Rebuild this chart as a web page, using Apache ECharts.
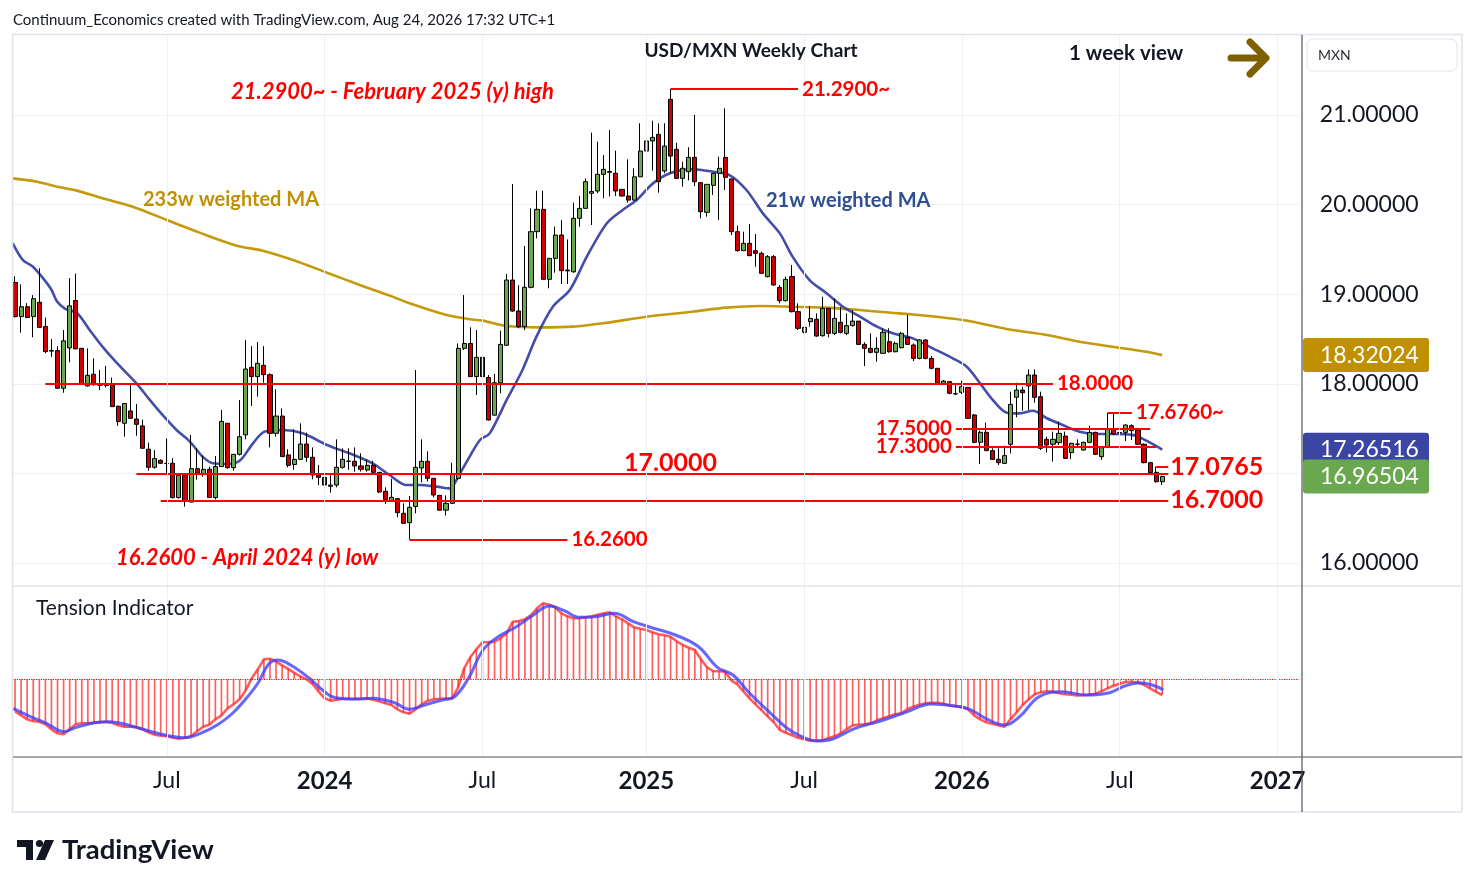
<!DOCTYPE html>
<html>
<head>
<meta charset="utf-8">
<title>USD/MXN Weekly Chart</title>
<script src="https://cdn.jsdelivr.net/npm/echarts@6.0.0/dist/echarts.min.js"></script>
<style>
  html, body { margin: 0; padding: 0; background: #fff; }
  #chart { width: 1475px; height: 887px; }
</style>
</head>
<body>
<div id="chart"></div>
<script>
// weekly bars starting with the week of 9 Jan 2023 (empty weeks pad the axis out past 2027)
var firstWeek = Date.UTC(2023, 0, 9);
var weekCount = 212;
var tickIdx  = [25, 51, 77, 104, 130, 156, 182, 208];
var tickText = ['Jul', '2024', 'Jul', '2025', 'Jul', '2026', 'Jul', '2027'];
var priceTicks = [16, 18, 19, 20, 21];

// OHLC
var opens = [19.13,18.75,18.86,18.75,18.91,18.64,18.37,18.37,17.95,18.40,18.93,18.396,17.976,18.106,17.99,17.98,17.99,17.75,17.56,17.697,
  17.607,17.53,17.27,17.068,17.146,17.11,17.113,16.73,16.979,16.68,17.053,16.994,17.046,16.73,17.076,17.56,17.064,17.213,17.43,18.184,
  18.08,18.206,18.102,17.447,17.64,17.206,17.10,17.157,17.328,17.18,16.982,16.956,16.856,16.87,17.068,17.135,17.135,17.083,17.038,17.09,
  17.012,16.80,16.688,16.718,16.555,16.45,16.63,17.06,17.135,16.945,16.755,16.59,16.666,16.945,18.396,18.45,18.08,18.295,18.07,17.65,
  18.01,18.43,19.158,18.812,18.638,19.077,19.698,19.947,19.166,19.40,19.66,19.27,19.25,19.847,19.958,20.126,20.152,20.338,20.36,20.35,
  20.17,20.096,20.05,20.31,20.598,20.71,20.784,20.375,21.175,20.617,20.293,20.367,20.527,20.245,19.914,20.215,20.349,20.527,20.286,19.698,
  19.486,19.568,19.486,19.456,19.196,19.419,19.076,18.928,19.196,18.805,18.575,18.693,18.72,18.537,18.842,18.563,18.686,18.563,18.649,18.70,
  18.44,18.396,18.351,18.34,18.47,18.358,18.403,18.518,18.433,18.284,18.489,18.284,18.173,18.005,18.024,17.887,17.905,17.96,17.652,17.347,
  17.458,17.254,17.157,17.112,17.325,17.85,17.93,17.976,18.098,17.856,17.38,17.325,17.343,17.417,17.232,17.325,17.261,17.347,17.458,17.187,
  17.298,17.496,17.455,17.458,17.533,17.485,17.325,17.12,17.012,16.908];
var closes = [18.75,18.86,18.74,18.95,18.63,18.36,18.365,17.95,18.48,18.87,18.39,17.998,18.095,17.99,17.985,17.982,17.745,17.578,17.78,17.615,
  17.548,17.28,17.068,17.165,17.113,17.112,16.73,16.979,16.69,17.053,17.00,17.046,16.73,17.076,17.58,17.064,17.213,17.41,18.165,18.08,
  18.228,18.102,17.447,17.64,17.187,17.09,17.157,17.328,17.18,16.982,16.956,16.87,16.87,17.068,17.157,17.137,17.083,17.046,17.09,17.012,
  16.792,16.71,16.733,16.562,16.443,16.621,17.068,17.135,16.945,16.759,16.59,16.666,16.993,18.396,18.45,18.08,18.295,18.08,17.596,18.012,
  18.44,19.158,18.812,18.638,19.077,19.698,19.947,19.166,19.40,19.66,19.263,19.26,19.847,19.958,20.256,20.145,20.338,20.394,20.37,20.152,
  20.096,20.05,20.31,20.598,20.71,20.75,20.256,20.654,20.542,20.293,20.405,20.527,20.256,19.921,20.226,20.349,20.405,20.304,19.698,19.486,
  19.568,19.43,19.456,19.233,19.419,19.103,18.928,19.166,18.805,18.619,18.63,18.73,18.533,18.842,18.563,18.73,18.574,18.649,18.70,18.44,
  18.396,18.351,18.396,18.574,18.358,18.451,18.563,18.44,18.284,18.489,18.284,18.173,18.005,18.031,17.894,17.889,17.968,17.615,17.347,17.458,
  17.254,17.157,17.12,17.198,17.77,17.93,17.90,18.098,17.849,17.28,17.317,17.38,17.447,17.168,17.336,17.327,17.347,17.458,17.213,17.287,
  17.496,17.44,17.457,17.54,17.477,17.325,17.12,17.008,16.908,16.965];
var lows = [18.74,18.57,18.735,18.52,18.63,18.34,18.30,17.95,17.90,18.24,18.385,17.99,17.97,17.98,17.93,17.96,17.745,17.53,17.41,17.615,
  17.42,17.28,17.03,17.053,17.105,17.00,16.718,16.72,16.63,16.68,16.93,16.963,16.73,16.71,17.076,17.05,17.03,17.20,17.38,17.752,
  17.856,18.012,17.29,17.41,17.187,17.068,17.038,17.15,17.13,16.934,16.87,16.87,16.785,16.845,17.053,17.04,17.02,17.02,17.02,17.00,
  16.78,16.66,16.68,16.51,16.443,16.26,16.555,16.90,16.908,16.733,16.584,16.53,16.658,16.926,18.377,18.08,17.875,18.06,17.59,17.65,
  17.894,18.425,18.805,18.62,18.60,19.066,19.623,19.166,19.066,19.24,19.114,19.114,19.24,19.753,19.958,19.772,20.126,20.07,20.09,20.096,
  20.09,20.02,20.044,20.31,20.237,20.38,20.133,20.35,20.35,20.286,20.20,20.27,20.207,19.847,19.865,20.107,19.828,20.163,19.66,19.475,
  19.486,19.43,19.307,19.225,19.188,19.095,18.898,18.917,18.797,18.60,18.563,18.638,18.526,18.526,18.518,18.544,18.563,18.544,18.638,18.433,
  18.198,18.34,18.247,18.333,18.347,18.351,18.396,18.433,18.254,18.273,18.273,18.161,18.005,17.998,17.883,17.875,17.887,17.607,17.336,17.105,
  17.254,17.15,17.094,17.105,17.224,17.626,17.70,17.708,17.79,17.261,17.231,17.131,17.317,17.16,17.16,17.30,17.254,17.336,17.205,17.15,
  17.291,17.429,17.43,17.362,17.373,17.317,17.112,16.99,16.896,16.87];
var highs = [19.20,19.11,18.90,18.99,19.29,18.74,18.50,18.42,18.60,19.18,19.23,18.40,18.396,18.285,18.155,18.20,18.07,17.755,17.78,17.987,
  17.775,17.60,17.343,17.26,17.157,17.39,17.17,16.98,16.98,17.43,17.28,17.20,17.076,17.194,17.708,17.56,17.213,17.82,18.49,18.42,
  18.466,18.42,18.117,17.938,17.726,17.27,17.492,17.559,17.455,17.29,17.094,17.105,16.98,17.38,17.28,17.28,17.29,17.224,17.157,17.14,
  17.012,16.845,16.94,16.722,16.666,16.748,18.154,17.38,17.246,16.945,16.755,16.755,17.12,18.45,18.99,18.63,18.60,18.50,18.098,18.11,
  18.593,19.225,20.23,19.10,19.538,19.958,20.155,20.155,19.40,19.753,19.828,19.612,20.02,20.096,20.293,20.803,20.702,20.553,20.832,20.602,
  20.17,20.505,20.404,20.907,20.937,20.937,20.907,20.907,21.29,20.69,20.479,20.64,21.00,20.245,20.226,20.349,20.535,21.074,20.286,19.765,
  19.698,19.783,19.672,19.475,19.437,19.437,19.103,19.196,19.326,18.898,18.63,18.868,18.786,18.972,18.842,18.954,18.86,18.786,18.823,18.70,
  18.463,18.563,18.519,18.619,18.619,18.47,18.58,18.768,18.451,18.496,18.496,18.31,18.173,18.042,18.024,18.005,18.035,17.96,17.663,17.477,
  17.566,17.28,17.28,17.31,17.912,18.012,17.968,18.161,18.161,17.912,17.41,17.466,17.578,17.466,17.343,17.38,17.354,17.533,17.466,17.298,
  17.676,17.676,17.65,17.548,17.548,17.485,17.336,17.12,17.075,16.975];

// 21-week and 233-week weighted MAs, sampled along the drawn curves (x = bar index)
var wma21X = [-0.4,1.3,2.9,4.6,6.0,6.9,8.2,10.2,12.3,14.4,16.8,20.0,22.2,24.3,26.6,28.8,30.9,32.6,34.9,37.0,39.2,41.1,44.1,47.4,51.4,
  55.1,58.9,61.7,64.5,66.7,69.5,71.6,73.3,74.9,76.6,78.2,81.0,83.6,85.9,88.6,91.4,94.2,97.5,100.1,102.4,105.1,107.9,111.6,115.0,117.7,
  120.5,123.2,126.0,128.1,130.9,133.7,136.4,139.2,142.0,144.6,147.9,151.2,154.5,156.8,159.0,161.1,163.4,165.5,167.7,170.0,172.6,175.4,
  178.2,180.8,184.1,186.4,189.0];
var wma21Y = [19.57,19.38,19.31,19.18,19.05,18.92,18.84,18.79,18.60,18.415,18.23,18.005,17.82,17.652,17.485,17.355,17.187,17.113,17.105,17.14,
  17.336,17.466,17.485,17.447,17.317,17.224,17.112,16.982,16.87,16.87,16.852,16.833,17.0,17.187,17.373,17.447,17.82,18.154,18.526,18.86,
  19.047,19.419,19.791,19.94,20.05,20.237,20.349,20.394,20.367,20.33,20.163,19.902,19.679,19.419,19.158,19.01,18.86,18.749,18.638,18.563,
  18.507,18.396,18.284,18.191,18.005,17.819,17.678,17.67,17.70,17.615,17.54,17.466,17.44,17.44,17.43,17.365,17.265];
var wma233X = [-0.4,3.6,7.4,10.2,14.4,19.4,25.0,30.4,36.5,40.8,45.8,51.4,56.8,62.2,65.0,70.5,74.9,77.0,81.0,86.4,91.9,97.5,104.1,111.6,
  117.2,122.7,128.1,133.7,139.2,145.8,156.1,164.4,170.0,175.4,180.8,186.4,189.0];
var wma233Y = [20.293,20.256,20.193,20.156,20.07,19.977,19.828,19.687,19.542,19.486,19.382,19.24,19.103,18.973,18.898,18.779,18.72,18.705,
  18.645,18.63,18.638,18.682,18.749,18.805,18.85,18.868,18.86,18.85,18.823,18.786,18.712,18.6,18.545,18.47,18.414,18.358,18.32];

// Tension indicator (arbitrary units, 0 = dotted line)
var tensionRed = [-32,-36,-40,-42,-42.5,-45,-50,-54,-55,-50,-45,-44,-44,-43.5,-43,-42.5,-43.5,-46,-47.4,-47.4,
  -48,-50,-53,-55.5,-56.5,-57,-58.5,-59.5,-58.5,-57,-52,-47.5,-45.5,-40,-36,-29,-25,-20,-11,1,
  10,20,20.5,18,14,10.5,6.5,3,0,-4.7,-12,-19,-21.4,-20.5,-19.7,-19.7,-19.7,-19.5,-19,-20.5,
  -22,-24,-25.7,-30,-33,-34.5,-30,-25,-21.4,-20,-19.5,-19.2,-19,-8,11,22,30,37,37.3,37.7,
  41,46,57.6,58.2,60,64.3,71,76,74.5,72,66,63,61,61,62,63,64.5,66,67,63,
  60,56,52,50.5,49.3,47,45,44,42.6,38,34.3,31.5,29.3,20,12,8.3,8,7.6,-1,-5,
  -12,-19,-25,-31,-37,-43,-50.7,-53.5,-56,-58.5,-60,-61.5,-61.5,-61,-59,-57,-54,-50,-46,-45.5,
  -45,-44,-41,-39,-37,-35,-34,-30,-27.5,-25.5,-24,-23.6,-23.4,-24.5,-26.4,-27,-28,-30,-36,-40,
  -43,-44.5,-46,-47.4,-40,-33,-25.7,-20,-15,-13,-12,-12.5,-14,-15,-15.5,-16.2,-16,-15.5,-14.5,-12,
  -9,-6.5,-4.5,-2.8,-2.4,-3.5,-5.5,-9,-12.5,-15.7];
var tensionBlueX = [-0.3,2.8,5.2,8.0,10.1,13.1,15.6,19.2,23.5,27.8,30.8,33.3,35.7,38.1,40.0,41.8,43.3,45.4,48.5,50.3,52.8,56.4,58.8,
  62.5,64.9,68.0,70.4,72.3,74.7,77.1,79.6,82.6,85.0,88.1,90.5,93.0,95.6,98.7,101.9,104.4,108.8,112.6,115.7,118.3,120.8,124.6,127.1,
  129.6,132.1,134.7,138.4,142.2,146.6,151.0,154.8,157.3,159.9,163.0,165.5,168.7,172.5,176.5,180.3,182.8,185.3,187.8,189.2];
var tensionBlueY = [-29,-38,-44,-52.4,-48,-43.4,-42.4,-46.7,-54,-58.4,-53.4,-45.7,-34.7,-19,-4,15.3,19.3,14.3,1,-9,-18.4,-19.7,-19,
  -23.4,-30,-24.7,-20.7,-18,1,29.3,42.6,52.6,62.6,73.3,68.6,62,62.6,66,57.6,52.6,44.3,32.6,12,4.3,-12.4,-34.7,-48.4,
  -57.4,-61.7,-59.7,-49,-42.4,-33.4,-24.7,-26.7,-30,-39,-45.7,-37.4,-17.4,-12.4,-15.7,-13.4,-6.7,-3.4,-6.7,-10.7];

// support / resistance levels drawn on the price pane
var levelValue = [21.29, 18.0, 17.676, 17.5, 17.3, 17.0765, 17.0, 16.7, 16.26];
var levelText  = ['21.2900~', '18.0000', '17.6760~', '17.5000', '17.3000', '17.0765', '', '16.7000', '16.2600'];
var levelFrom  = [108, 5, 180, 155, 155, 188, 20, 24, 65];
var levelTo    = [129, 171, 184, 187, 188, 190, 190, 190, 91];
var levelSide  = ['end', 'end', 'end', 'start', 'start', 'end', 'end', 'end', 'end'];
var levelBig   = [false, false, false, false, false, true, true, true, false];

// right-hand price tags: 233w MA, 21w MA, last close
var tagValue = [18.32024, 17.26516, 16.96504];
var tagColor = ['#c09000', '#3b45a4', '#6aa84f'];

var FONT = 'Lato, "Open Sans", sans-serif';
var INK = '#131722';
var GRID = '#edf0f5';
var paneTop = 15.754, paneBottom = 21.893;

var weeks = [];
for (var i = 0; i < weekCount; i++) {
  weeks.push(new Date(firstWeek + i * 7 * 864e5).toISOString().slice(0, 10));
}
var ohlc = opens.map(function (o, i) { return [o, closes[i], lows[i], highs[i]]; });
function pairs(xs, ys) { return xs.map(function (x, i) { return [x, ys[i]]; }); }

var levelLines = levelValue.map(function (v, k) {
  return [{
    coord: [levelFrom[k], v],
    label: {
      show: levelText[k] !== '',
      formatter: levelText[k],
      position: levelSide[k],
      distance: levelBig[k] ? 2 : 4,
      color: '#ff0000',
      fontFamily: FONT,
      fontWeight: 'bold',
      fontSize: levelBig[k] ? 25 : 20.5
    }
  }, { coord: [levelTo[k], v] }];
});

var priceGridLines = tickIdx.map(function (t) {
  return [{ coord: [t, paneTop] }, { coord: [t, paneBottom] }];
});

var chart = echarts.init(document.getElementById('chart'));

var option = {
  animation: false,
  backgroundColor: '#fff',
  grid: [
    { left: 12, right: 176.2, top: 25.4, bottom: 234.4 },
    { left: 12, right: 176.2, top: 586, bottom: 130 }
  ],
  xAxis: [
    { type: 'category', gridIndex: 0, data: weeks, boundaryGap: true,
      axisLine: { show: false }, axisTick: { show: false }, axisLabel: { show: false }, splitLine: { show: false } },
    { type: 'category', gridIndex: 1, data: weeks, boundaryGap: true,
      axisLine: { show: false }, axisTick: { show: false }, splitLine: { show: false },
      axisLabel: {
        margin: 12,
        interval: function (i) { return tickIdx.indexOf(i) >= 0; },
        formatter: function (v, i) {
          var k = tickIdx.indexOf(i);
          if (k < 0) return '';
          return tickText[k] === 'Jul' ? '{m|Jul}' : '{y|' + tickText[k] + '}';
        },
        rich: {
          m: { fontFamily: FONT, fontSize: 23, color: INK },
          y: { fontFamily: FONT, fontSize: 24, fontWeight: 'bold', color: INK }
        }
      } },
    { type: 'value', gridIndex: 0, min: -0.5, max: weekCount - 0.5, show: false },
    { type: 'value', gridIndex: 1, min: -0.5, max: weekCount - 0.5, show: false }
  ],
  yAxis: [
    { type: 'value', gridIndex: 0, position: 'right', min: 15, max: 22, interval: 1,
      axisLine: { show: false }, axisTick: { show: false },
      splitLine: { show: true, showMinLine: false, showMaxLine: false, lineStyle: { color: GRID, width: 1 } },
      axisLabel: {
        margin: 21, fontFamily: FONT, fontSize: 23, color: INK,
        formatter: function (v) { return priceTicks.indexOf(v) >= 0 ? v.toFixed(5) : ''; }
      } },
    { type: 'value', gridIndex: 1, min: -77.7, max: 93.3, show: false }
  ],
  series: [
    {
      name: 'USD/MXN', type: 'candlestick', xAxisIndex: 0, yAxisIndex: 0,
      data: ohlc, barWidth: 4.6,
      itemStyle: { color: '#6aa84f', color0: '#cc0000', borderColor: '#000', borderColor0: '#000', borderWidth: 1 },
      markLine: {
        silent: true, symbol: ['none', 'none'], animation: false,
        lineStyle: { color: '#ff0000', width: 2, type: 'solid' },
        data: levelLines
      },
      markPoint: {
        silent: true, animation: false,
        data: [{
          coord: [108, 17.0], symbol: 'circle', symbolSize: 1, itemStyle: { color: 'rgba(0,0,0,0)' },
          label: { show: true, position: 'top', distance: 0, offset: [0, 3], formatter: '17.0000',
            color: '#ff0000', fontFamily: FONT, fontWeight: 'bold', fontSize: 25 }
        }]
      },
      z: 3
    },
    {
      name: '233w weighted MA', type: 'line', xAxisIndex: 2, yAxisIndex: 0,
      data: pairs(wma233X, wma233Y), smooth: 0.3, showSymbol: false,
      lineStyle: { color: '#c49a0a', width: 2.6 },
      markLine: {
        silent: true, symbol: ['none', 'none'], animation: false, label: { show: false },
        lineStyle: { color: GRID, width: 1, type: 'solid' },
        data: priceGridLines
      },
      z: 2
    },
    {
      name: '21w weighted MA', type: 'line', xAxisIndex: 2, yAxisIndex: 0,
      data: pairs(wma21X, wma21Y), smooth: 0.3, showSymbol: false,
      lineStyle: { color: 'rgba(48,58,160,0.9)', width: 2.6 },
      z: 2
    },
    {
      name: 'Tension bars', type: 'bar', xAxisIndex: 1, yAxisIndex: 1,
      data: tensionRed, barWidth: 1.7,
      itemStyle: { color: 'rgba(255,0,0,0.62)' },
      markLine: {
        silent: true, symbol: ['none', 'none'], animation: false, label: { show: false },
        lineStyle: { color: '#ff0000', width: 1.2, type: 'dotted' },
        data: [{ yAxis: 0 }]
      }
    },
    {
      name: 'Tension', type: 'line', xAxisIndex: 1, yAxisIndex: 1,
      data: tensionRed, showSymbol: false,
      lineStyle: { color: 'rgba(255,30,30,0.72)', width: 2.6 }
    },
    {
      name: 'Tension signal', type: 'line', xAxisIndex: 3, yAxisIndex: 1,
      data: pairs(tensionBlueX, tensionBlueY), smooth: 0.4, showSymbol: false,
      lineStyle: { color: 'rgba(60,60,255,0.78)', width: 3 },
      markLine: {
        silent: true, symbol: ['none', 'none'], animation: false, label: { show: false },
        lineStyle: { color: GRID, width: 1, type: 'solid' },
        data: tickIdx.map(function (t) { return { xAxis: t }; })
      }
    }
  ]
};
chart.setOption(option);

function txt(x, y, s, font, fill, align) {
  return { type: 'text', silent: true, z: 50,
    style: { x: x, y: y, text: s, font: font, fill: fill, textAlign: align || 'left', textVerticalAlign: 'middle' } };
}
function seg(x1, y1, x2, y2, color, w) {
  return { type: 'line', silent: true, z: 40, shape: { x1: x1, y1: y1, x2: x2, y2: y2 }, style: { stroke: color, lineWidth: w } };
}

var g = [
  { type: 'rect', silent: true, z: 39, shape: { x: 12.5, y: 34.5, width: 1449.5, height: 777.5 },
    style: { fill: 'none', stroke: '#e0e3eb', lineWidth: 1.5 } },
  seg(13, 586, 1462, 586, '#e0e3eb', 1.5),
  seg(13, 757, 1462, 757, '#50535e', 1.2),
  seg(1302, 35, 1302, 812, '#50535e', 1.2),
  { type: 'rect', silent: true, z: 41, shape: { x: 1307, y: 39, width: 150, height: 32, r: 6 },
    style: { fill: '#fff', stroke: '#e0e3eb', lineWidth: 1 } },
  txt(1318, 55, 'MXN', '14px ' + FONT, '#2a2e39'),
  txt(13, 20, 'Continuum_Economics created with TradingView.com, Aug 24, 2026 17:32 UTC+1', '15px ' + FONT, INK),
  txt(751, 51, 'USD/MXN Weekly Chart', 'bold 19px ' + FONT, INK, 'center'),
  txt(1069, 53, '1 week view', 'bold 20.5px ' + FONT, INK),
  { type: 'polyline', silent: true, z: 50, shape: { points: [[1231, 58], [1264, 58]] },
    style: { stroke: '#7f6000', lineWidth: 7, lineCap: 'round', fill: 'none' } },
  { type: 'polyline', silent: true, z: 50, shape: { points: [[1250, 42], [1266, 58], [1250, 74]] },
    style: { stroke: '#7f6000', lineWidth: 7, lineCap: 'round', lineJoin: 'round', fill: 'none' } },
  txt(231, 92, '21.2900~ - February 2025 (y) high', 'italic bold 22px ' + FONT, '#ff0000'),
  txt(116, 558, '16.2600 - April 2024 (y) low', 'italic bold 22px ' + FONT, '#ff0000'),
  txt(143, 200, '233w weighted MA', 'bold 20px ' + FONT, '#c09000'),
  txt(766, 201, '21w weighted MA', 'bold 20px ' + FONT, '#2e4e8f'),
  txt(36, 608, 'Tension Indicator', '21px ' + FONT, INK),
  // TradingView logo
  { type: 'polygon', silent: true, z: 50, shape: { points: [[17, 840], [33, 840], [33, 860], [26, 860], [26, 847], [17, 847]] },
    style: { fill: INK } },
  { type: 'circle', silent: true, z: 50, shape: { cx: 39.5, cy: 843.5, r: 3.6 }, style: { fill: INK } },
  { type: 'polygon', silent: true, z: 50, shape: { points: [[45, 840], [54, 840], [45, 860], [36, 860]] },
    style: { fill: INK } },
  txt(62, 850, 'TradingView', 'bold 27.5px ' + FONT, INK)
];

tagValue.forEach(function (v, k) {
  var y = chart.convertToPixel({ yAxisIndex: 0 }, v);
  g.push({ type: 'rect', silent: true, z: 45, shape: { x: 1303, y: y - 17, width: 126, height: 34, r: 3 },
    style: { fill: tagColor[k] } });
  g.push(txt(1320, y, v.toFixed(5), '23px ' + FONT, '#fff'));
});

chart.setOption({ graphic: g });
</script>
</body>
</html>
